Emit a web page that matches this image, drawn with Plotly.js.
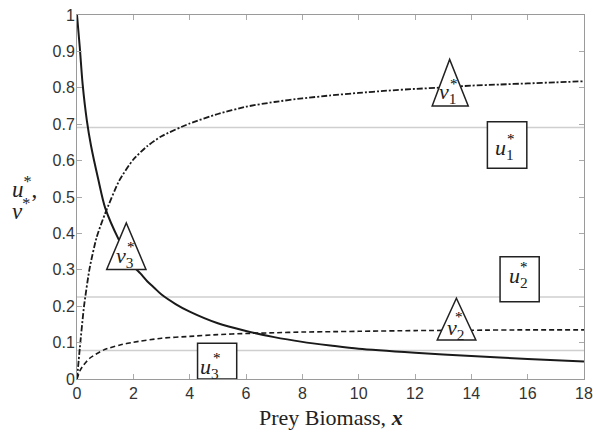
<!DOCTYPE html>
<html>
<head>
<meta charset="utf-8">
<script src="https://cdn.plot.ly/plotly-3.0.1.min.js"></script>
<style>html,body{margin:0;padding:0;background:#fff;}</style>
</head>
<body>
<div id="chart" style="width:593px;height:434px;"></div>
<script>
// ---- data ----
const xSolid = [0, 0.1, 0.2, 0.35, 0.5, 0.75, 1, 1.5, 2, 2.25, 2.5, 2.75, 3, 3.5, 4, 5, 6, 7, 8, 9, 10, 12, 14, 16, 18];
const v3Star = [1.0, 0.91, 0.81, 0.71, 0.64, 0.55, 0.47, 0.38, 0.31, 0.29, 0.268, 0.25, 0.232, 0.206, 0.185, 0.153, 0.132, 0.115, 0.102, 0.092, 0.083, 0.072, 0.063, 0.055, 0.048];

const xDashDot = [0, 0.1, 0.25, 0.45, 0.7, 1, 1.5, 2, 2.5, 3, 4, 5, 6, 7, 8, 9, 10, 11, 12, 13, 14, 15, 16, 17, 18];
const v1Star = [0, 0.085, 0.20, 0.305, 0.39, 0.455, 0.545, 0.603, 0.64, 0.667, 0.702, 0.728, 0.748, 0.761, 0.771, 0.779, 0.786, 0.792, 0.797, 0.801, 0.806, 0.809, 0.812, 0.815, 0.818];

const xDash = [0, 0.1, 0.2, 0.45, 0.95, 1.5, 2, 3, 4, 5, 6, 7, 8, 9, 10, 12, 14, 16, 18];
const v2Star = [0, 0.022, 0.035, 0.057, 0.080, 0.093, 0.101, 0.112, 0.117, 0.122, 0.125, 0.127, 0.129, 0.130, 0.131, 0.133, 0.134, 0.135, 0.135];

const uLevels = [0.691, 0.225, 0.078];   // u1*, u2*, u3*
const xRange = [0, 18];
const xTicks = [0, 2, 4, 6, 8, 10, 12, 14, 16, 18];
const yTicks = [0, 0.1, 0.2, 0.3, 0.4, 0.5, 0.6, 0.7, 0.8, 0.9, 1];
const yTickText = ['0', '0.1', '0.2', '0.3', '0.4', '0.5', '0.6', '0.7', '0.8', '0.9', '1'];

// ---- traces ----
const traces = [];
uLevels.forEach(u => {
  traces.push({x: xRange, y: [u, u], mode: 'lines', line: {color: '#cfcfcf', width: 1.5}, hoverinfo: 'skip', showlegend: false});
});
traces.push({x: xSolid, y: v3Star, mode: 'lines', line: {color: '#1a1a1a', width: 2, shape: 'spline', smoothing: 0.8}, showlegend: false});
traces.push({x: xDashDot, y: v1Star, mode: 'lines', line: {color: '#1a1a1a', width: 1.8, dash: '6px,2px,2px,2px', shape: 'spline', smoothing: 0.6}, showlegend: false});
traces.push({x: xDash, y: v2Star, mode: 'lines', line: {color: '#1a1a1a', width: 1.6, dash: '5px,3px', shape: 'spline', smoothing: 0.6}, showlegend: false});

// ---- marker shapes (triangles for v*, boxes for u*) ----
function tri(x0, x1, y0, xa, ya) {
  return {type: 'path', xref: 'x', yref: 'y', layer: 'above',
          path: `M ${x0},${y0} L ${x1},${y0} L ${xa},${ya} Z`,
          fillcolor: '#ffffff', line: {color: '#222', width: 1.5}};
}
function box(x0, x1, y0, y1) {
  return {type: 'rect', xref: 'x', yref: 'y', layer: 'above', x0, x1, y0, y1,
          fillcolor: '#ffffff', line: {color: '#222', width: 1.5}};
}
const shapes = [
  tri(12.61, 13.89, 0.750, 13.23, 0.878),
  tri(1.054, 2.449, 0.301, 1.75, 0.429),
  tri(12.79, 14.16, 0.107, 13.47, 0.222),
  box(14.57, 15.97, 0.579, 0.707),
  box(15.02, 16.41, 0.212, 0.336),
  box(4.28, 5.67, 0.0, 0.098)
];

const serif = 'Liberation Serif, Times New Roman, serif';
function lab(letter, sub, x, y, sx, sy) {
  return [
    {x, y, xref: 'x', yref: 'y', text: `<i>${letter}</i><sub>${sub}</sub>`, showarrow: false,
     xanchor: 'center', yanchor: 'middle', font: {family: serif, size: 22, color: '#222'}},
    {x: sx, y: sy, xref: 'x', yref: 'y', text: '*', showarrow: false,
     xanchor: 'center', yanchor: 'middle', font: {family: serif, size: 15, color: '#000'}}
  ];
}
const annotations = [].concat(
  lab('v', '1', 13.17, 0.785, 13.40, 0.810),
  lab('u', '1', 15.16, 0.632, 15.40, 0.660),
  lab('v', '3', 1.70, 0.336, 1.92, 0.362),
  lab('u', '2', 15.69, 0.280, 15.88, 0.308),
  lab('v', '2', 13.42, 0.138, 13.57, 0.170),
  lab('u', '3', 4.70, 0.030, 4.96, 0.058),
  [
    {xref: 'paper', yref: 'paper', x: -0.132, y: 0.527, xanchor: 'left', yanchor: 'middle', showarrow: false,
     text: '<i>u</i><sup>*</sup>,', font: {family: serif, size: 23, color: '#222'}},
    {xref: 'paper', yref: 'paper', x: -0.132, y: 0.466, xanchor: 'left', yanchor: 'middle', showarrow: false,
     text: '<i>v</i><sup>*</sup>', font: {family: serif, size: 23, color: '#222'}},
    {xref: 'paper', yref: 'paper', x: 0.5, y: -0.107, xanchor: 'center', yanchor: 'middle', showarrow: false,
     text: 'Prey Biomass, <b><i>x</i></b>', font: {family: serif, size: 22, color: '#222'}}
  ]
);

const axisCommon = {
  showline: true, linecolor: '#9a9a9a', linewidth: 1, mirror: 'ticks',
  ticks: 'inside', ticklen: 5, tickcolor: '#aaaaaa', tickwidth: 1,
  showgrid: false, zeroline: false,
  tickfont: {family: 'Liberation Sans, Arial, sans-serif', size: 16, color: '#333'}
};

const layout = {
  width: 593, height: 434,
  margin: {l: 77, r: 9, t: 15, b: 55},
  paper_bgcolor: '#fff', plot_bgcolor: '#fff',
  showlegend: false,
  xaxis: Object.assign({}, axisCommon, {range: xRange, tickvals: xTicks, ticktext: xTicks.map(String)}),
  yaxis: Object.assign({}, axisCommon, {range: [0, 1], tickvals: yTicks, ticktext: yTickText, ticklabelstandoff: -2}),
  shapes, annotations
};

Plotly.newPlot('chart', traces, layout, {displayModeBar: false, staticPlot: true});
</script>
</body>
</html>
